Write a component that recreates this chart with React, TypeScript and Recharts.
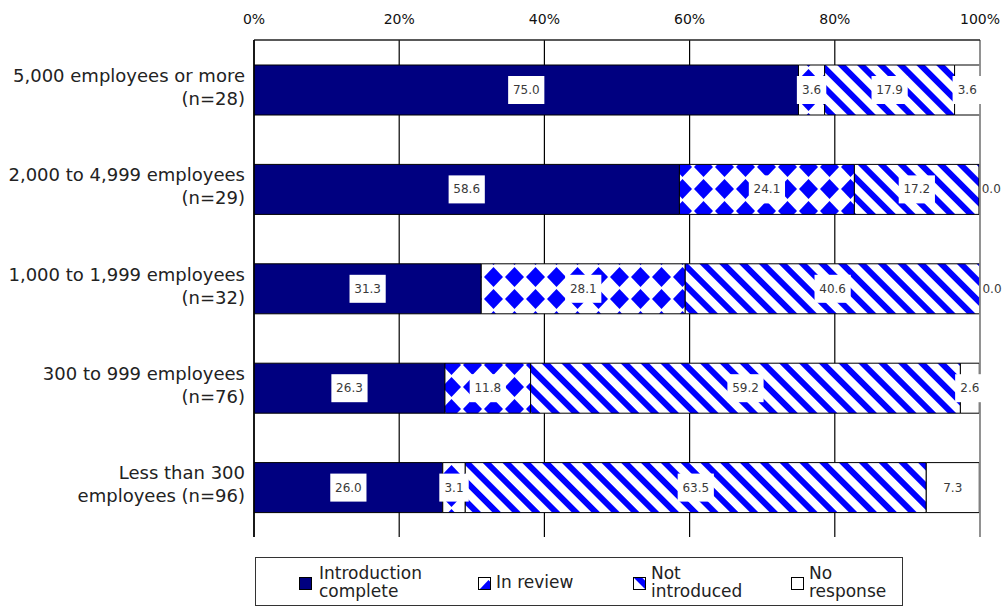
import React from 'react';
import { BarChart, Bar, XAxis, YAxis, CartesianGrid, ReferenceLine, LabelList } from 'recharts';

// Respondent groups, two lines each on the category axis
const groupLines: string[][] = [
  ['5,000 employees or more', '(n=28)'],
  ['2,000 to 4,999 employees', '(n=29)'],
  ['1,000 to 1,999 employees', '(n=32)'],
  ['300 to 999 employees', '(n=76)'],
  ['Less than 300', 'employees (n=96)'],
];

// Shares in percent for each group
const introComplete = [75.0, 58.6, 31.3, 26.3, 26.0];
const inReview = [3.6, 24.1, 28.1, 11.8, 3.1];
const notIntroduced = [17.9, 17.2, 40.6, 59.2, 63.5];
const noResponse = [3.6, 0.0, 0.0, 2.6, 7.3];

const percentTicks = [0, 20, 40, 60, 80, 100];

const seriesNames = ['Introduction complete', 'In review', 'Not introduced', 'No response'];

const rows = groupLines.map((lines, i) => ({
  name: lines.join(' '),
  complete: introComplete[i],
  review: inReview[i],
  notIntro: notIntroduced[i],
  noResp: noResponse[i],
}));

const FONT = '"DejaVu Sans", Verdana, sans-serif';
const NAVY = '#000080';
const BLUE = '#0000ff';

const fills = {
  complete: NAVY,
  review: 'url(#reviewPattern)',
  notIntro: 'url(#stripePattern)',
  noResp: '#ffffff',
};

const CategoryTick = (props: any) => {
  const { x, y, payload } = props;
  const idx = rows.findIndex((r) => r.name === payload.value);
  const lines = groupLines[idx] ?? [String(payload.value)];
  return (
    <g>
      <text x={x} y={y - 8} textAnchor="end" fontSize={18} fontFamily={FONT} fill="#222">
        {lines[0]}
      </text>
      <text x={x} y={y + 15} textAnchor="end" fontSize={18} fontFamily={FONT} fill="#222">
        {lines[1]}
      </text>
    </g>
  );
};

// White box with the value, centred on its segment; empty segments get the text just past the bar end
const SegmentLabel = (props: any) => {
  const vb = props.viewBox ?? {};
  const x = Number(props.x ?? vb.x);
  const y = Number(props.y ?? vb.y);
  const w = Number(props.width ?? vb.width ?? 0);
  const h = Number(props.height ?? vb.height);
  const v = Number(props.value);
  if (!isFinite(x) || !isFinite(y) || !isFinite(v)) return null;
  const text = v.toFixed(1);
  const boxW = text.length * 6.8 + 9;
  const boxH = 28;
  const empty = v === 0;
  const cx = empty ? x + 12 : x + w / 2;
  const cy = y + h / 2;
  return (
    <g>
      {!empty && (
        <rect x={cx - boxW / 2} y={cy - boxH / 2} width={boxW} height={boxH} fill="#ffffff" />
      )}
      <text x={cx} y={cy + 4} textAnchor="middle" fontSize={12} fontFamily={FONT} fill="#3a3a3a">
        {text}
      </text>
    </g>
  );
};

const Swatch = ({ fill }: { fill: string }) => (
  <svg width={13} height={13} style={{ display: 'block' }}>
    <rect x={0.5} y={0.5} width={12} height={12} fill={fill} stroke="#000" strokeWidth={1} />
  </svg>
);

const legendItems = [
  { fill: fills.complete, swatchX: 43, textX: 63, lines: ['Introduction', 'complete'] },
  { fill: fills.review, swatchX: 222, textX: 240, lines: ['In review'] },
  { fill: fills.notIntro, swatchX: 377, textX: 395, lines: ['Not', 'introduced'] },
  { fill: fills.noResp, swatchX: 535, textX: 553, lines: ['No', 'response'] },
];

export default function App() {
  return (
    <div style={{ position: 'absolute', left: 0, top: 0, width: 1003, height: 607, background: '#fff' }}>
      <svg width={0} height={0} style={{ position: 'absolute' }}>
        <defs>
          <pattern id="reviewPattern" patternUnits="userSpaceOnUse" x={0} y={2} width={21} height={22}>
            <rect width={21} height={22} fill="#ffffff" />
            <polygon points="10.5,1 20,11 10.5,21 1,11" fill={BLUE} />
          </pattern>
          <pattern
            id="stripePattern"
            patternUnits="userSpaceOnUse"
            width={14}
            height={14}
            patternTransform="rotate(-45)"
          >
            <rect width={14} height={14} fill="#ffffff" />
            <rect width={6} height={14} fill={BLUE} />
          </pattern>
        </defs>
      </svg>

      <BarChart
        width={1003}
        height={607}
        data={rows}
        layout="vertical"
        margin={{ top: 0, right: 23, bottom: 70, left: 0 }}
        barSize={50}
      >
        <CartesianGrid vertical horizontal={false} stroke="#000" strokeWidth={1.2} />
        <XAxis
          type="number"
          orientation="top"
          domain={[0, 100]}
          ticks={percentTicks}
          allowDataOverflow
          height={40}
          tickFormatter={(v: number) => `${v}%`}
          tickLine={false}
          tickSize={0}
          tickMargin={16}
          axisLine={{ stroke: '#222', strokeWidth: 1.5 }}
          tick={{ fill: '#111', fontSize: 14, fontFamily: FONT }}
        />
        <YAxis
          type="category"
          dataKey="name"
          width={254}
          interval={0}
          tickLine={false}
          tickSize={0}
          tickMargin={9}
          axisLine={{ stroke: '#000', strokeWidth: 1.5 }}
          tick={(p: any) => <CategoryTick {...p} />}
        />
        <Bar dataKey="complete" name={seriesNames[0]} stackId="s" fill={fills.complete} stroke="#000" strokeWidth={1} isAnimationActive={false}>
          <LabelList dataKey="complete" content={(p: any) => <SegmentLabel {...p} />} />
        </Bar>
        <Bar dataKey="review" name={seriesNames[1]} stackId="s" fill={fills.review} stroke="#000" strokeWidth={1} isAnimationActive={false}>
          <LabelList dataKey="review" content={(p: any) => <SegmentLabel {...p} />} />
        </Bar>
        <Bar dataKey="notIntro" name={seriesNames[2]} stackId="s" fill={fills.notIntro} stroke="#000" strokeWidth={1} isAnimationActive={false}>
          <LabelList dataKey="notIntro" content={(p: any) => <SegmentLabel {...p} />} />
        </Bar>
        <Bar
          dataKey="noResp"
          name={seriesNames[3]}
          stackId="s"
          fill={fills.noResp}
          stroke="#000"
          strokeWidth={1}
          minPointSize={0.01}
          isAnimationActive={false}
        >
          <LabelList dataKey="noResp" content={(p: any) => <SegmentLabel {...p} />} />
        </Bar>
        <ReferenceLine x={100} stroke="#a0a0a0" strokeWidth={1.5} />
      </BarChart>

      <div
        style={{
          position: 'absolute',
          left: 255,
          top: 557,
          width: 646,
          height: 47,
          border: '1px solid #333',
          fontFamily: FONT,
          fontSize: 17,
          lineHeight: '18px',
          color: '#222',
        }}
      >
        {legendItems.map((item, i) => (
          <React.Fragment key={seriesNames[i]}>
            <div style={{ position: 'absolute', left: item.swatchX, top: 19 }}>
              <Swatch fill={item.fill} />
            </div>
            <div style={{ position: 'absolute', left: item.textX, top: item.lines.length > 1 ? 6 : 15, whiteSpace: 'nowrap' }}>
              {item.lines.map((l) => (
                <div key={l}>{l}</div>
              ))}
            </div>
          </React.Fragment>
        ))}
      </div>
    </div>
  );
}
